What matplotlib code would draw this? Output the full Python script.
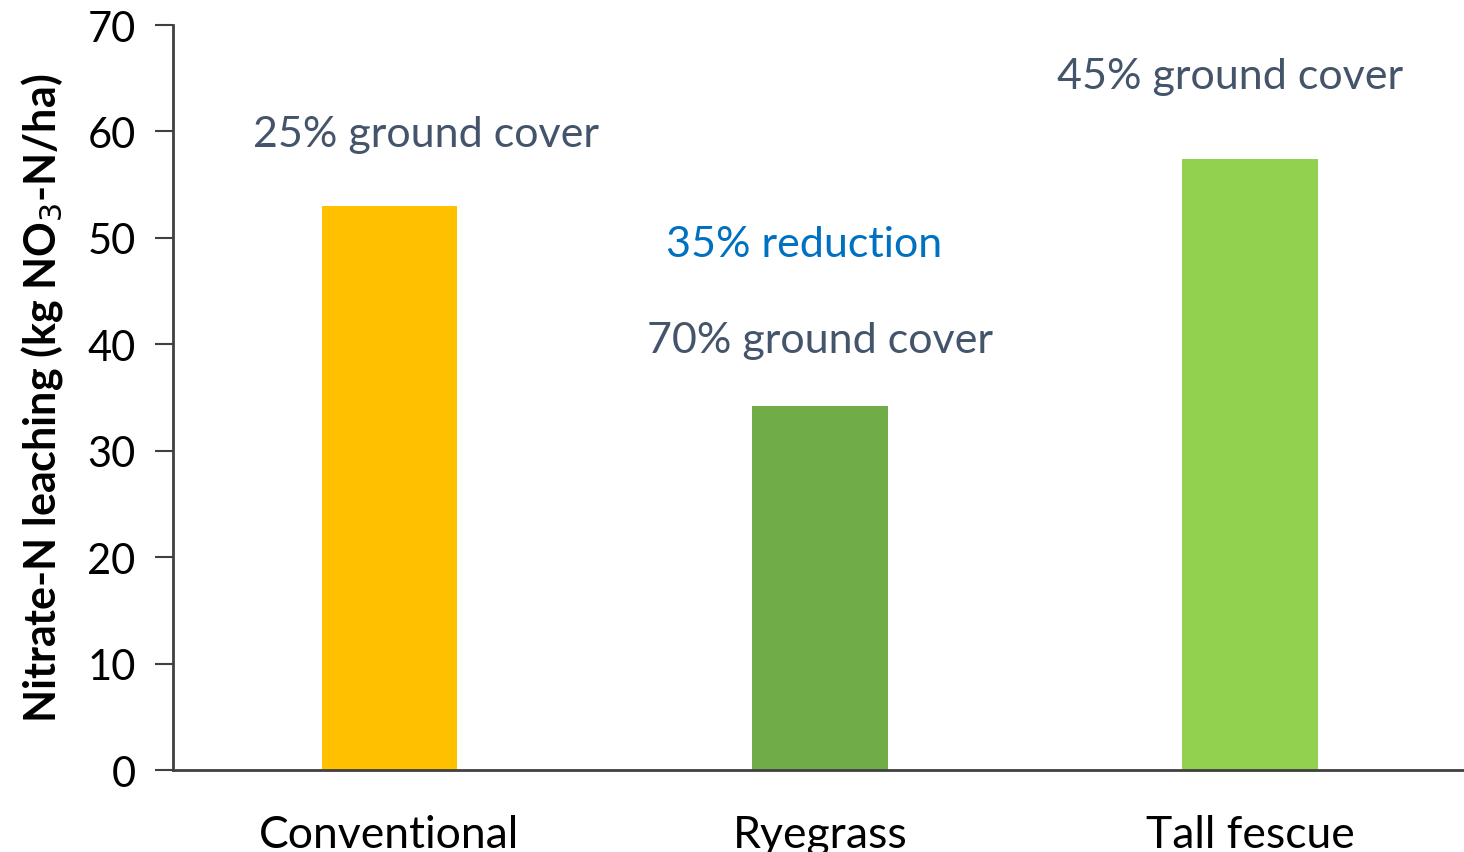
import matplotlib.pyplot as plt

# nitrate leaching under each cover treatment
systems = ["Conventional", "Ryegrass", "Tall fescue"]
leaching = [53.0, 34.2, 57.4]
bar_colors = ["#FFC000", "#70AD47", "#92D050"]

# ground cover notes above the bars
notes = ["25% ground cover", "70% ground cover", "45% ground cover"]
note_x = [0.084, 1.0, 1.954]
note_y = [59.8, 40.4, 65.2]

plt.rcParams['font.family'] = ['Lato', 'DejaVu Sans']

fig = plt.figure(figsize=(14.64, 8.53), dpi=100)
ax = fig.add_axes([0.1182, 0.0961, 0.8818, 0.8734])

x = range(len(systems))
ax.bar(x, leaching, width=0.315, color=bar_colors)

for nx, ny, t in zip(note_x, note_y, notes):
    ax.text(nx, ny, t, ha='center', va='center', fontsize=31, color='#44546A')
ax.text(0.963, 49.4, "35% reduction", ha='center', va='center', fontsize=31, color='#0070C0')

ax.set_xlim(-0.503, 2.497)
ax.set_ylim(0, 70)
ax.set_yticks(range(0, 71, 10))
ax.set_xticks(list(x))
ax.set_xticklabels(systems, fontsize=32)
ax.tick_params(axis='x', length=0, pad=32)
ax.tick_params(axis='y', labelsize=30, length=13, width=1.5, color='#404040', pad=14)

for s in ['top', 'right']:
    ax.spines[s].set_visible(False)
for s in ['left', 'bottom']:
    ax.spines[s].set_color('#404040')
    ax.spines[s].set_linewidth(2)

ax.set_ylabel("Nitrate-N leaching (kg NO$_3$-N/ha)", fontsize=31, fontweight='bold', labelpad=16)

plt.savefig('out.png')
